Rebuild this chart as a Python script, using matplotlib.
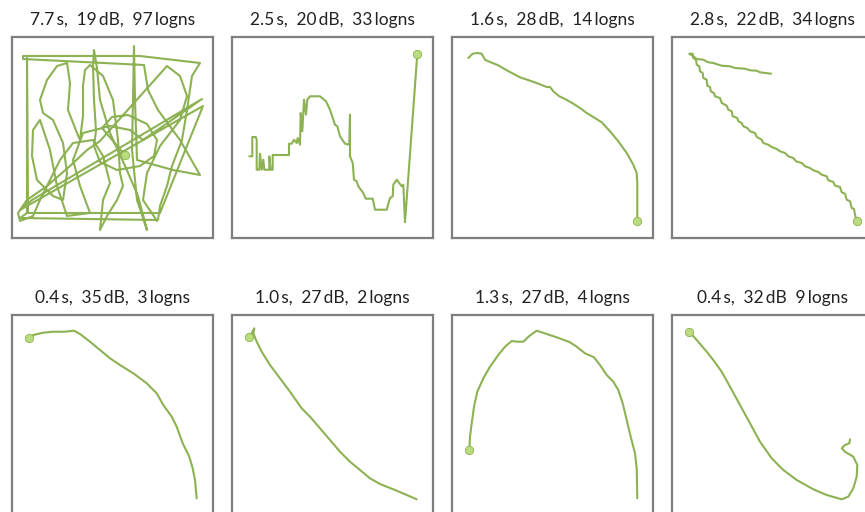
import matplotlib
matplotlib.use("Agg")
import matplotlib.pyplot as plt

# titles (thin space between number and unit, en space after the commas)
titles = [
    "7.7\u2009s,\u200219\u2009dB,\u200297\u2009logns",
    "2.5\u2009s,\u200220\u2009dB,\u200233\u2009logns",
    "1.6\u2009s,\u200228\u2009dB,\u200214\u2009logns",
    "2.8\u2009s,\u200222\u2009dB,\u200234\u2009logns",
    "0.4\u2009s,\u200235\u2009dB,\u20023\u2009logns",
    "1.0\u2009s,\u200227\u2009dB,\u20022\u2009logns",
    "1.3\u2009s,\u200227\u2009dB,\u20024\u2009logns",
    "0.4\u2009s,\u200232\u2009dB\u20029\u2009logns",
]

# traces, in pixels from the top-left corner of each box (y grows downwards)
x1 = [113, 101, 90, 100, 116, 135, 145, 142, 128, 105, 88, 82, 84, 82, 81, 82, 85, 88, 98, 114,
      126, 135, 125, 120, 121, 122, 123, 125, 161, 188, 168, 146, 136, 132, 11, 11, 128, 188, 180, 175,
      170, 160, 155, 148, 146, 8, 15, 15, 16, 148, 191, 8, 20, 190, 131, 118, 98, 71, 61, 68,
      78, 55, 45, 38, 28, 21, 20, 25, 41, 51, 55, 51, 41, 31, 28, 35, 45, 55, 58, 56,
      65, 68, 71, 71, 73, 78, 91, 101, 106, 108, 111, 105, 95, 88, 91, 98, 91, 81, 61, 48,
      38, 28, 21, 8, 6, 15, 35, 58, 75, 88, 155, 168, 175, 168, 148, 135, 131, 145]
y1 = [118, 104, 91, 80, 78, 87, 103, 119, 129, 133, 125, 109, 94, 63, 29, 13, 31, 63, 96, 131,
      159, 193, 163, 113, 63, 9, 63, 123, 133, 138, 103, 73, 53, 28, 22, 19, 19, 26, 39, 73,
      103, 129, 149, 169, 183, 181, 176, 21, 176, 176, 69, 173, 163, 62, 103, 93, 89, 96, 123, 149,
      176, 179, 149, 113, 83, 93, 119, 143, 159, 163, 136, 106, 83, 76, 63, 43, 29, 26, 46, 73,
      96, 103, 79, 49, 33, 28, 39, 63, 103, 136, 149, 163, 179, 193, 163, 146, 119, 103, 106, 123,
      143, 163, 179, 184, 176, 163, 149, 129, 113, 104, 29, 39, 59, 83, 109, 136, 163, 184]

x2 = [17.3, 20.3, 20.3, 23.7, 24.7, 24.7, 27.3, 28, 29.7, 31.3, 32.3, 37.3, 37.3, 38.7, 40.7, 40.7,
      57, 57, 59.7, 62, 64.7, 65.7, 68, 68.7, 70.3, 72, 74, 75.3, 78, 88, 94, 98, 103, 105.3, 108,
      113, 117.3, 118, 118, 120.7, 122, 124.7, 126.3, 131.3, 133.7, 140.7, 143, 154.7, 158, 160.7,
      161.3, 164.7, 169.7, 171.3, 173, 185.3]
y2 = [119.3, 119.3, 100, 100, 102.7, 132.7, 132.7, 116.7, 132.7, 122.7, 132.7, 132.7, 119.3, 132.7,
      132.7, 118, 118, 106.7, 106.7, 102.7, 106, 101, 107.7, 76, 94.3, 62.7, 77.7, 62.7, 59.3, 59.3,
      64.3, 72.7, 87.7, 89.3, 99.3, 106.7, 107.7, 77.7, 119.3, 126, 142.7, 144.3, 149.3, 156, 161.7,
      161.7, 172.7, 172.7, 161, 159.3, 147.7, 142.7, 149.3, 147.7, 185.3, 17]

x3 = [16.3, 20.7, 25.3, 29.7, 33, 38, 46.3, 54.7, 68, 84.7, 94.7, 98, 101.3, 107.3, 113, 121.3,
      128, 134.7, 141.3, 149.7, 158, 166.3, 174.7, 181.3, 184.7, 185.3, 185.3]
y3 = [21, 16.7, 16, 16.7, 22.7, 25, 28.3, 33.3, 40.3, 46, 50, 50, 54.3, 59.3, 62, 66.7, 71, 76, 80,
      85.3, 94.3, 104.3, 116, 127.7, 136, 146, 184.3]

x4 = [99, 88, 84.7, 78, 73, 63, 58, 49.7, 41.3, 36.3, 31.3, 24.7, 21.3, 17.3, 20.7, 21.3, 24, 24.7,
      27.3, 28, 30.7, 31.3, 34.7, 35.3, 38, 38.7, 42, 43, 48, 49.7, 54.7, 56.3, 59.7, 60.7, 65.3,
      66.3, 69.7, 71.3, 75.3, 78, 83, 84.7, 89.7, 91.3, 96.3, 99.7, 104.7, 108, 113, 116.3, 121.3,
      124, 129.7, 133, 138, 141.3, 146.3, 149.7, 154.7, 156.3, 161.3, 163, 168, 169.7, 173, 174.7,
      178, 179.7, 182, 183, 184.7]
y4 = [36.7, 35.3, 33.7, 33.3, 31.7, 31, 29.3, 28.7, 26, 25.3, 22.7, 22, 19.3, 16.7, 16.7, 21, 22.7,
      27.7, 29.3, 34.3, 36, 41, 42.7, 48.7, 50, 54.3, 56, 59.3, 61, 66, 68.7, 72.7, 74.3, 79.3, 81,
      84.3, 86, 89.3, 91, 94.3, 96, 100, 102.7, 106, 107.7, 110, 112, 114.3, 116, 119.3, 121, 124.3,
      126, 129.3, 131, 133.3, 135, 137.7, 139.3, 143.3, 145, 148.7, 150, 155.3, 156.7, 162.7, 164.3,
      171, 172, 177.7, 184.3]

x5 = [17, 21.3, 31.3, 41.3, 53, 62, 68, 78, 88, 98, 108, 121.3, 134.7, 144.7, 151.3, 159.7, 164.7,
      170.7, 177.3, 180.7, 183, 184.7]
y5 = [23.3, 20, 17.7, 16.7, 16.7, 15.7, 19, 26.7, 35, 43.3, 50, 58.3, 68.3, 78.3, 90, 101.7, 111.7,
      128.3, 141.7, 153.3, 165, 183.3]

x6 = [17, 19.7, 22.3, 21.3, 24.7, 29.7, 38, 48, 58, 69.7, 78, 88, 98, 108, 118, 128, 138, 148,
      154.7, 164.7, 174.7, 184.7]
y6 = [21.7, 18.3, 13.3, 18.3, 26.7, 36.7, 50, 63.3, 76.7, 93.3, 101.7, 113.3, 125, 136.7, 146.7,
      155, 163.3, 169, 171.7, 175.7, 180, 184.3]

x7 = [17.3, 18, 19.7, 22, 25.3, 31.3, 38, 46.3, 53, 59.7, 65.3, 71.3, 77.3, 84.7, 94.7, 104.7, 118,
      124.7, 133, 142, 148, 154.7, 161.3, 166.3, 170.7, 174.7, 178.7, 183, 184.7, 185.3]
y7 = [135, 121.7, 108.3, 91.7, 76.7, 63.3, 51.7, 40, 31.7, 26, 26.7, 26.7, 21, 15.7, 19, 22.3, 27.3,
      31.7, 38.3, 42.3, 50, 60, 66.7, 75, 88.3, 105, 121.7, 138.3, 153.3, 183.3]

x8 = [17.3, 24.7, 34.7, 41.3, 49.7, 58, 68, 78, 88, 99.7, 111.3, 124.7, 141.3, 154.7, 169.7, 176.3,
      181.3, 184.7, 185.3, 181.3, 173, 169.7, 173, 177.3, 178]
y8 = [16.7, 25, 36.7, 45, 56.7, 71.7, 90, 108.3, 126.7, 143.3, 155, 165, 174.3, 180, 184.3, 181.7,
      173.3, 161.7, 150, 141.7, 136.7, 133.3, 130, 128.3, 124.3]

# which end of each trace carries the dot
dot_idx = [0, -1, -1, -1, 0, 0, 0, 0]

xs = [x1, x2, x3, x4, x5, x6, x7, x8]
ys = [y1, y2, y3, y4, y5, y6, y7, y8]

line_col = "#8db254"
dot_col = "#b8dc7e"
frame_col = "#7f7f7f"

W, H = 865, 512
fig = plt.figure(figsize=(W / 100, H / 100), dpi=100)

lefts = [12, 232, 452, 672]
tops = [37, 315]
box = 201

for i in range(8):
    r, c = divmod(i, 4)
    left = lefts[c]
    top = tops[r]
    ax = fig.add_axes([left / W, (H - top - box) / H, box / W, box / H])
    ax.plot(xs[i], ys[i], color=line_col, lw=1.5, solid_joinstyle="round", solid_capstyle="round")
    j = dot_idx[i]
    ax.plot(xs[i][j], ys[i][j], "o", ms=6, mfc=dot_col, mec=line_col, mew=0.6)
    ax.set_xlim(0, box)
    ax.set_ylim(box, 0)
    ax.set_xticks([])
    ax.set_yticks([])
    for s in ax.spines.values():
        s.set_color(frame_col)
        s.set_linewidth(1.6)
    ax.set_title(titles[i], fontsize=12.5, pad=8.5, family=["Lato", "DejaVu Sans"], color="#222222")

fig.savefig("out.png", dpi=100)
